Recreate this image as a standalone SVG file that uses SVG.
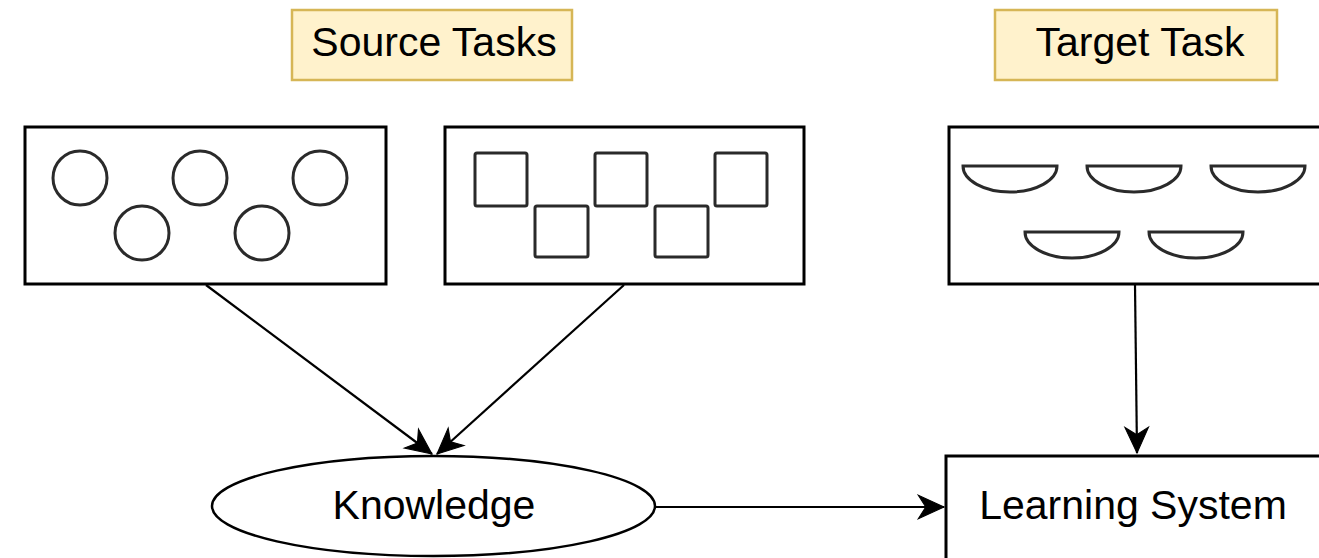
<svg xmlns="http://www.w3.org/2000/svg" width="1319" height="558" viewBox="0 0 1319 558">
  <style>
    .lbl { fill: #fff2cc; stroke: #d6b656; stroke-width: 2.5; }
    .box { fill: #ffffff; stroke: #000000; stroke-width: 3; }
    .item { fill: #ffffff; stroke: #2a2a2a; stroke-width: 3; }
    .txt { font-family: "Liberation Sans", Arial, sans-serif; font-size: 41px; fill: #000000; text-anchor: middle; }
    .edge { fill: none; stroke: #000000; stroke-width: 2.2; marker-end: url(#arrow); }
  </style>
  <defs>
    <marker id="arrow" markerUnits="userSpaceOnUse" markerWidth="30" markerHeight="30" viewBox="-26 -13 28 26" refX="0" refY="0" orient="auto">
      <path d="M0,0 L-24,-11 L-17,0 L-24,11 Z" fill="#000000" stroke="#000000" stroke-width="1"/>
    </marker>
  </defs>

  <rect width="1319" height="558" fill="#ffffff"/>

  <!-- Header labels -->
  <g id="source-tasks-label">
    <rect class="lbl" x="292" y="10" width="280" height="70"/>
    <text class="txt" x="434" y="56">Source Tasks</text>
  </g>
  <g id="target-task-label">
    <rect class="lbl" x="995" y="10" width="282" height="70"/>
    <text class="txt" x="1140" y="56">Target Task</text>
  </g>

  <!-- Source task 1: circles -->
  <g id="source-circles">
    <rect class="box" x="25" y="127" width="361" height="157"/>
    <circle class="item" cx="80" cy="178" r="27"/>
    <circle class="item" cx="200" cy="178" r="27"/>
    <circle class="item" cx="320" cy="178" r="27"/>
    <circle class="item" cx="142" cy="233" r="27"/>
    <circle class="item" cx="262" cy="233" r="27"/>
  </g>

  <!-- Source task 2: squares -->
  <g id="source-squares">
    <rect class="box" x="445" y="127" width="359" height="157"/>
    <rect class="item" x="475" y="153" width="52" height="53" rx="2"/>
    <rect class="item" x="595" y="153" width="52" height="53" rx="2"/>
    <rect class="item" x="715" y="153" width="52" height="53" rx="2"/>
    <rect class="item" x="535" y="206" width="53" height="51" rx="2"/>
    <rect class="item" x="655" y="206" width="53" height="51" rx="2"/>
  </g>

  <!-- Target task: half discs -->
  <g id="target-halves">
    <rect class="box" x="949" y="127" width="390" height="157"/>
    <path class="item" d="M963,166 L1057,166 A47,26 0 0 1 963,166 Z"/>
    <path class="item" d="M1087,166 L1181,166 A47,26 0 0 1 1087,166 Z"/>
    <path class="item" d="M1211,166 L1305,166 A47,26 0 0 1 1211,166 Z"/>
    <path class="item" d="M1025,232 L1119,232 A47,26 0 0 1 1025,232 Z"/>
    <path class="item" d="M1149,232 L1243,232 A47,26 0 0 1 1149,232 Z"/>
  </g>

  <!-- Knowledge -->
  <g id="knowledge">
    <ellipse cx="433.5" cy="506" rx="221.5" ry="50" fill="#ffffff" stroke="#000000" stroke-width="2.5"/>
    <text class="txt" x="434" y="519">Knowledge</text>
  </g>

  <!-- Learning system -->
  <g id="learning-system">
    <rect class="box" x="946" y="456" width="400" height="120"/>
    <text class="txt" x="1133" y="519">Learning System</text>
  </g>

  <!-- Connectors -->
  <g id="connectors">
    <path class="edge" d="M206,285 L432,454"/>
    <path class="edge" d="M624,285 L437,454"/>
    <path class="edge" d="M1135,285 L1137,453"/>
    <path class="edge" d="M655,507 L944,507"/>
  </g>
</svg>
